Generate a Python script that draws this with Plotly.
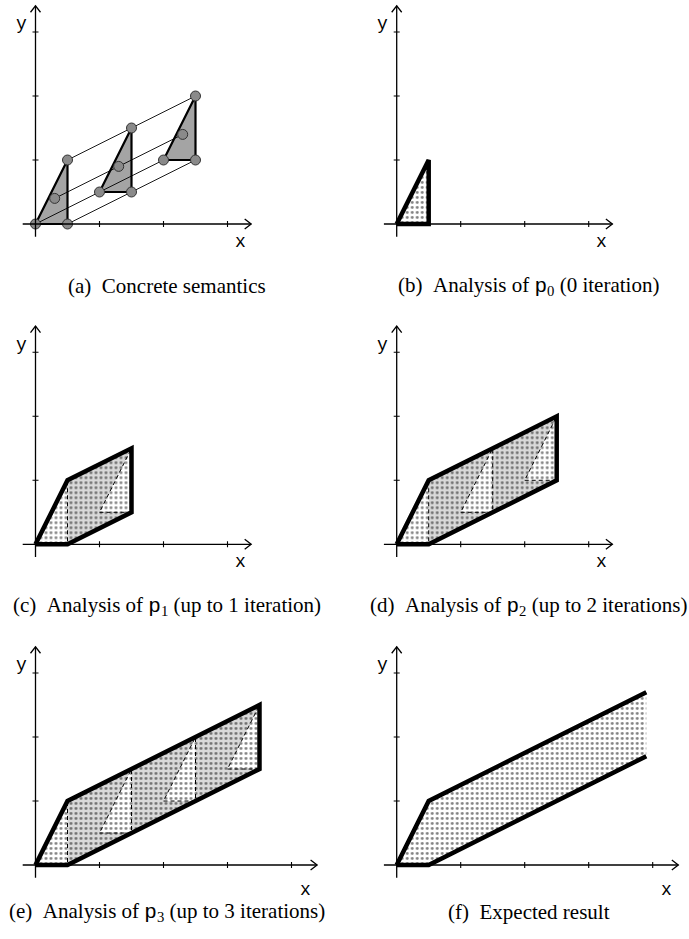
import plotly.graph_objects as go

W, H = 689, 939
PX = 64.0  # pixels per data unit

# ---------------- data ----------------
# concrete triangles (iterations 0..3)
tri_x = [[0, 0.5, 0.5], [1, 1.5, 1.5], [2, 2.5, 2.5], [3, 3.5, 3.5]]
tri_y = [[0, 0, 1], [0.5, 0.5, 1.5], [1, 1, 2], [1.5, 1.5, 2.5]]
# interior sample points of concrete triangles
inner_x = [0.3, 1.3, 2.3]
inner_y = [0.4, 0.9, 1.4]

# analysis polygons
p0_x = [0, 0.5, 0.5]
p0_y = [0, 0, 1]
p1_x = [0, 0.5, 1.5, 1.5, 0.5]
p1_y = [0, 0, 0.5, 1.5, 1]
p2_x = [0, 0.5, 2.5, 2.5, 0.5]
p2_y = [0, 0, 1, 2, 1]
p3_x = [0, 0.5, 3.5, 3.5, 0.5]
p3_y = [0, 0, 1.5, 2.5, 1]
# expected result (open band)
exp_upper_x = [0, 0.5, 3.9]
exp_upper_y = [0, 1, 2.7]
exp_lower_x = [0, 0.5, 3.9]
exp_lower_y = [0, 0, 1.7]

xticks_small = [1, 2, 3]
xticks_large = [1, 2, 3, 4]
yticks = [1, 2, 3]

MONO = "Liberation Mono"
SERIF = "Liberation Serif, Times New Roman, serif"


def pmono(k):
    return f'<span style="font-family:{MONO}">p</span><sub>{k}</sub>'


captions = [
    "(a)\u00a0\u00a0Concrete semantics",
    f"(b)\u00a0\u00a0Analysis of {pmono(0)} (0 iteration)",
    f"(c)\u00a0\u00a0Analysis of {pmono(1)} (up to 1 iteration)",
    f"(d)\u00a0\u00a0Analysis of {pmono(2)} (up to 2 iterations)",
    f"(e)\u00a0\u00a0Analysis of {pmono(3)} (up to 3 iterations)",
    f"(f)\u00a0\u00a0Expected result",
]

# ---------------- layout of panels ----------------
col_origin = [35.5, 396.7]
row_origin = [224.0, 544.3, 865.0]
caption_cx = [166.5, 528.5]
caption_y = [286.0, 606.0, 912.0]
XR = [-0.5, 4.45]
YR = [-0.5, 3.5]

fig = go.Figure()
layout = dict(
    width=W, height=H, margin=dict(l=0, r=0, t=0, b=0),
    paper_bgcolor="white", plot_bgcolor="rgba(0,0,0,0)", showlegend=False,
)
annotations = []

GRAY_DARK = "#a4a4a4"
GRAY_LIGHT = "#d9d9d9"


def ax_names(i):
    return ("x" if i == 1 else f"x{i}"), ("y" if i == 1 else f"y{i}")


def add(i, **kw):
    xa, ya = ax_names(i)
    kw.setdefault("hoverinfo", "skip")
    fig.add_trace(go.Scatter(xaxis=xa, yaxis=ya, **kw))


def dots(bg):
    return dict(shape=".", bgcolor=bg, fgcolor="black", size=5, solidity=0.24)


for idx in range(6):
    i = idx + 1
    r, c = divmod(idx, 2)
    ox, oy = col_origin[c], row_origin[r]
    x0 = ox + XR[0] * PX
    x1 = ox + XR[1] * PX
    ytop = oy - YR[1] * PX
    ybot = oy - YR[0] * PX
    xa_key = "xaxis" if i == 1 else f"xaxis{i}"
    ya_key = "yaxis" if i == 1 else f"yaxis{i}"
    xa, ya = ax_names(i)
    layout[xa_key] = dict(domain=[x0 / W, x1 / W], range=XR, visible=False,
                          anchor=ya, fixedrange=True)
    layout[ya_key] = dict(domain=[1 - ybot / H, 1 - ytop / H], range=YR,
                          visible=False, anchor=xa, fixedrange=True)
    annotations.append(dict(
        xref="paper", yref="paper", x=caption_cx[c] / W, y=1 - caption_y[r] / H,
        text=captions[idx], showarrow=False, xanchor="center", yanchor="middle",
        font=dict(family=SERIF, size=21, color="black"),
    ))

# ---------------- panel content ----------------
# (a) concrete semantics
for k in range(3):
    add(1, x=tri_x[k] + [tri_x[k][0]], y=tri_y[k] + [tri_y[k][0]],
        mode="lines", fill="toself", fillcolor=GRAY_DARK,
        line=dict(color="black", width=2.2))
# thin lines joining corresponding points
for v in range(3):
    add(1, x=[tri_x[k][v] for k in range(3)], y=[tri_y[k][v] for k in range(3)],
        mode="lines", line=dict(color="black", width=0.9))
add(1, x=inner_x, y=inner_y, mode="lines", line=dict(color="black", width=0.9))
pts_x = [x for k in range(3) for x in tri_x[k]] + inner_x
pts_y = [y for k in range(3) for y in tri_y[k]] + inner_y
add(1, x=pts_x, y=pts_y, mode="markers",
    marker=dict(size=10, color="#8a8a8a", line=dict(color="#333333", width=1)))

# (b) analysis of p0
add(2, x=p0_x + [p0_x[0]], y=p0_y + [p0_y[0]], mode="lines", fill="toself",
    fillcolor="white", fillpattern=dots("white"), line=dict(width=0))
add(2, x=p0_x + [p0_x[0]], y=p0_y + [p0_y[0]], mode="lines",
    line=dict(color="black", width=4.5))


def analysis(i, px, py, ntri):
    add(i, x=px + [px[0]], y=py + [py[0]], mode="lines", fill="toself",
        fillcolor=GRAY_LIGHT, fillpattern=dots(GRAY_LIGHT), line=dict(width=0))
    for k in range(ntri):
        add(i, x=tri_x[k] + [tri_x[k][0]], y=tri_y[k] + [tri_y[k][0]],
            mode="lines", fill="toself", fillcolor="white",
            fillpattern=dots("white"), line=dict(width=0))
    for k in range(ntri):
        add(i, x=tri_x[k] + [tri_x[k][0]], y=tri_y[k] + [tri_y[k][0]],
            mode="lines", line=dict(color="black", width=1, dash="4px,3px"))
    add(i, x=px + [px[0]], y=py + [py[0]], mode="lines",
        line=dict(color="black", width=4.5))


analysis(3, p1_x, p1_y, 2)
analysis(4, p2_x, p2_y, 3)
analysis(5, p3_x, p3_y, 4)

# (f) expected result
band_x = exp_upper_x + exp_lower_x[::-1]
band_y = exp_upper_y + exp_lower_y[::-1]
add(6, x=band_x, y=band_y, mode="lines", fill="toself", fillcolor="white",
    fillpattern=dots("white"), line=dict(width=0))
add(6, x=exp_upper_x, y=exp_upper_y, mode="lines", line=dict(color="black", width=4.5))
add(6, x=exp_lower_x, y=exp_lower_y, mode="lines", line=dict(color="black", width=4.5))

# ---------------- coordinate axes ----------------
TK = 3.0 / PX       # tick half length
AW = 5.0 / PX       # arrow wing half width
AB = 6.5 / PX       # arrow wing back length
for idx in range(6):
    i = idx + 1
    r = idx // 2
    xend = 3.37 if r < 2 else 4.4
    xt = xticks_small if r < 2 else xticks_large
    ytop = 3.41
    lx = 3.2 if r < 2 else 4.22
    ly = -0.28 if r < 2 else -0.39
    # axis lines
    add(i, x=[-0.2, xend, None, 0, 0], y=[0, 0, None, -0.2, ytop], mode="lines",
        line=dict(color="black", width=1.3))
    # arrow heads
    add(i, x=[xend - AB, xend, xend - AB, None, -AW, 0, AW],
        y=[AW, 0, -AW, None, ytop - AB, ytop, ytop - AB], mode="lines",
        line=dict(color="black", width=1.3))
    # ticks
    tx, ty = [], []
    for t in xt:
        tx += [t, t, None]
        ty += [-TK, TK, None]
    for t in yticks:
        tx += [-TK, TK, None]
        ty += [t, t, None]
    add(i, x=tx, y=ty, mode="lines", line=dict(color="black", width=1.1))
    xa, ya = ax_names(i)
    annotations.append(dict(xref=xa, yref=ya, x=lx, y=ly, text="x", showarrow=False,
                            xanchor="center", yanchor="middle",
                            font=dict(family=MONO, size=18, color="black")))
    annotations.append(dict(xref=xa, yref=ya, x=-0.22, y=3.12, text="y", showarrow=False,
                            xanchor="center", yanchor="middle",
                            font=dict(family=MONO, size=18, color="black")))

layout["annotations"] = annotations
fig.update_layout(**layout)
fig.write_html("out.html", config={"displayModeBar": False},
               post_script="document.body.style.margin='0';document.body.style.overflow='hidden';")
